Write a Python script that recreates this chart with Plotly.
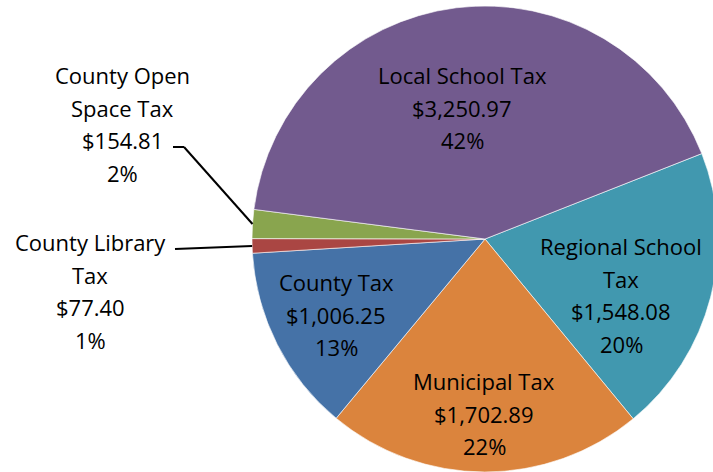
import math
import plotly.graph_objects as go

# ---- data ----
labels = ["Regional School Tax", "Municipal Tax", "County Tax",
          "County Library Tax", "County Open Space Tax", "Local School Tax"]
values = [1548.08, 1702.89, 1006.25, 77.40, 154.81, 3250.97]
label_lines = [["Regional School", "Tax"], ["Municipal Tax"], ["County Tax"],
               ["County Library", "Tax"], ["County Open", "Space Tax"], ["Local School Tax"]]
colors = ["#4198AF", "#DB843D", "#4572A7", "#AA4643", "#89A54E", "#725A8E"]

# ---- layout constants (window pixels) ----
W, H = 720, 472
OFF = 0
CXw, CYw, R = 485, 239, 233
CX, CY = CXw - OFF, CYw - OFF
ROT = 68.5
FONT = dict(family="Open Sans, Lato, sans-serif", size=22, color="black")
LINE_STEP = 32.5
# label block positions: (center x, first line center y) in window pixels
label_pos = [(621, 246), (484, 381), (336, 282), (90, 242), (122, 75), (462, 75)]

total = sum(values)
pcts = [round(v / total * 100) for v in values]

fig = go.Figure(go.Pie(
    labels=labels, values=values, sort=False, direction="clockwise",
    rotation=ROT, marker=dict(colors=colors, line=dict(color="rgba(255,255,255,0.6)", width=1)),
    textinfo="none", hoverinfo="label+value+percent", showlegend=False,
    domain=dict(x=[max(0, (CX - R) / W), min(1, (CX + R) / W)],
                y=[max(0, (H - CY - R) / H), min(1, (H - CY + R) / H)]),
))

def px(x, y):
    return (x - OFF) / W, 1 - (y - OFF) / H

annotations = []
for i, (lab, v, p) in enumerate(zip(label_lines, values, pcts)):
    lines = lab + [f"${v:,.2f}", f"{p}%"]
    x0, y0 = label_pos[i]
    for j, t in enumerate(lines):
        xx, yy = px(x0, y0 + j * LINE_STEP)
        annotations.append(dict(x=xx, y=yy, xref="paper", yref="paper", text=t,
                                showarrow=False, font=FONT, xanchor="center", yanchor="middle"))

# leader lines from labels to slice edges (slice mid-angle computed from data)
cum = 0
mids = []
for v in values:
    a0 = ROT + cum / total * 360
    cum += v
    a1 = ROT + cum / total * 360
    mids.append(math.radians((a0 + a1) / 2))

def edge(i):
    return CXw + R * math.sin(mids[i]), CYw - R * math.cos(mids[i])

shapes = []
# County Open Space Tax (index 4)
ex, ey = edge(4)
pts = [(173, 147), (184, 147), (ex, ey)]
for (xa, ya), (xb, yb) in zip(pts[:-1], pts[1:]):
    a = px(xa, ya); b = px(xb, yb)
    shapes.append(dict(type="line", xref="paper", yref="paper", x0=a[0], y0=a[1], x1=b[0], y1=b[1],
                       line=dict(color="black", width=2)))
# County Library Tax (index 3)
ex, ey = edge(3)
a = px(175, 249); b = px(ex, ey)
shapes.append(dict(type="line", xref="paper", yref="paper", x0=a[0], y0=a[1], x1=b[0], y1=b[1],
                   line=dict(color="black", width=2)))

fig.update_layout(width=W, height=H, margin=dict(l=0, r=0, t=0, b=0),
                  paper_bgcolor="white", plot_bgcolor="white",
                  annotations=annotations, shapes=shapes)
fig.write_html("out.html", config={"displayModeBar": False},
               post_script="document.body.style.margin='0';document.body.style.overflow='hidden';")
